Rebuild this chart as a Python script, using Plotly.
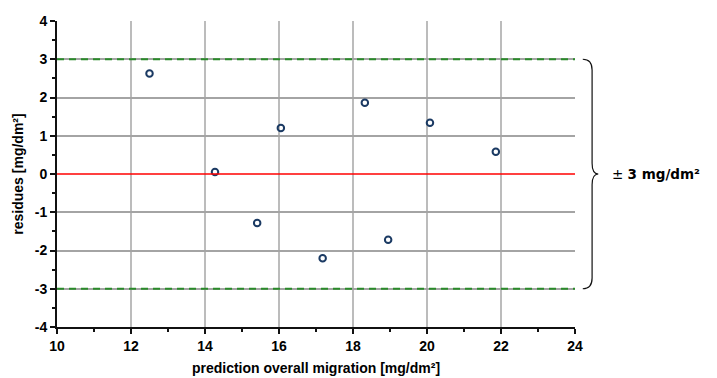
import plotly.graph_objects as go

# data
pred = [12.5, 14.27, 15.41, 16.05, 17.18, 18.32, 18.95, 20.08, 21.86]
resid = [2.63, 0.05, -1.28, 1.20, -2.20, 1.86, -1.72, 1.34, 0.58]
limit = 3
x_ticks = [10, 12, 14, 16, 18, 20, 22, 24]
y_ticks = [-4, -3, -2, -1, 0, 1, 2, 3, 4]
x_grid = [12, 14, 16, 18, 20, 22]
y_grid = [-3, -2, -1, 1, 2, 3]
x_range = [10, 24]
y_range = [-4, 4]

fig = go.Figure()
fig.add_trace(go.Scatter(x=[], y=[], xaxis="x2", yaxis="y2", showlegend=False))
fig.add_trace(go.Scatter(
    x=pred, y=resid, mode="markers", showlegend=False,
    marker=dict(symbol="circle-open", size=6.5, color="#1b3a63", line=dict(width=2, color="#1b3a63")),
    cliponaxis=False,
))

# reference lines
fig.add_shape(type="line", xref="x domain", yref="y", x0=0, x1=1, y0=0, y1=0,
              line=dict(color="#ff0000", width=1.5))
for v in (limit, -limit):
    fig.add_shape(type="line", xref="x domain", yref="y", x0=0, x1=1, y0=v, y1=v,
                  line=dict(color="#2a8a2a", width=2, dash="7px,5px"))

# brace (paper coords)
yt = (limit - y_range[0]) / (y_range[1] - y_range[0])
yb = (-limit - y_range[0]) / (y_range[1] - y_range[0])
ym = (0 - y_range[0]) / (y_range[1] - y_range[0])
xs, xc, xt = 1.015, 1.033, 1.045
r = 0.035
path = (f"M {xs},{yt} Q {xc},{yt} {xc},{yt - r} L {xc},{ym + r} "
        f"Q {xc},{ym} {xt},{ym} Q {xc},{ym} {xc},{ym - r} L {xc},{yb + r} "
        f"Q {xc},{yb} {xs},{yb}")
fig.add_shape(type="path", xref="paper", yref="paper", path=path,
              line=dict(color="#111111", width=1.2))
fig.add_annotation(xref="paper", yref="paper", x=1.068, y=ym, xanchor="left", yanchor="middle",
                   text="± <b>3 mg/dm²</b>", showarrow=False,
                   font=dict(family="DejaVu Sans", size=13.5, color="#000"))

tickfont = dict(family="Liberation Sans", size=14, color="#000")
titlefont = dict(family="Liberation Sans", size=14, color="#000")

def bold(vals):
    return [f"<b>{v}</b>" for v in vals]

fig.update_layout(
    width=717, height=378,
    margin=dict(l=49, r=150, t=13, b=59),
    paper_bgcolor="white", plot_bgcolor="white",
    xaxis=dict(range=x_range, tickvals=x_ticks, ticktext=bold(x_ticks), showgrid=False, zeroline=False,
               automargin=False,
               showline=True, linecolor="#111", linewidth=2,
               ticks="outside", ticklen=5, tickwidth=2, tickcolor="#111",
               minor=dict(dtick=1, ticks="outside", ticklen=3, tickwidth=1.5, tickcolor="#111"),
               tickfont=tickfont,
               title=dict(text="<b>prediction overall migration [mg/dm²]</b>", font=titlefont, standoff=10)),
    yaxis=dict(range=y_range, tickvals=y_ticks, ticktext=bold(y_ticks), showgrid=False, zeroline=False,
               automargin=False,
               showline=True, linecolor="#111", linewidth=2,
               ticks="outside", ticklen=5, tickwidth=2, tickcolor="#111",
               minor=dict(dtick=0.5, ticks="outside", ticklen=3, tickwidth=1.5, tickcolor="#111"),
               tickfont=tickfont,
               title=dict(text="<b>residues [mg/dm²]</b>", font=titlefont, standoff=8)),
    xaxis2=dict(range=x_range, overlaying="x", tickvals=x_grid, showgrid=True, automargin=False,
                gridcolor="#bcbcbc", gridwidth=1.5, showticklabels=False, ticks="",
                zeroline=False, showline=False),
    yaxis2=dict(range=y_range, overlaying="y", tickvals=y_grid, showgrid=True, automargin=False,
                gridcolor="#a4a4a4", gridwidth=1.5, showticklabels=False, ticks="",
                zeroline=False, showline=False),
)

fig.write_html("out.html")
